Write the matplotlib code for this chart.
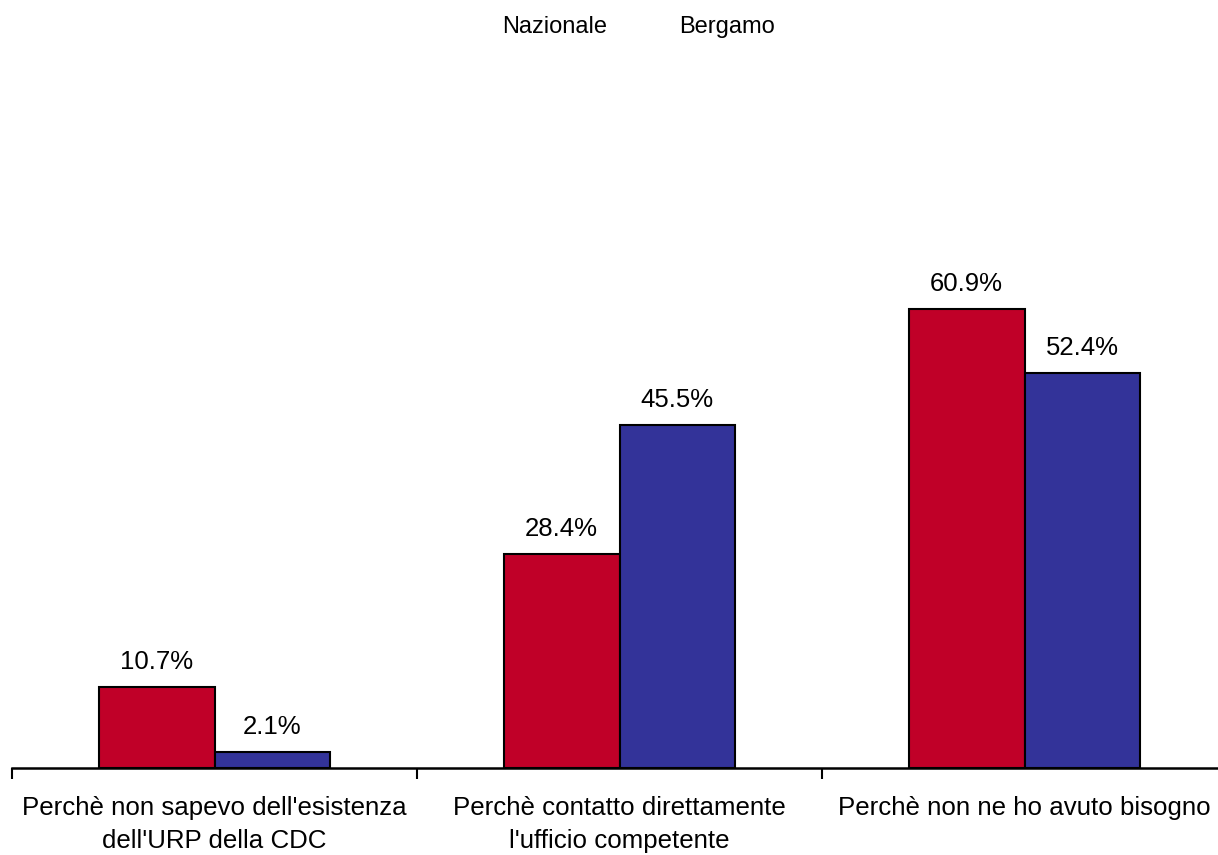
import matplotlib.pyplot as plt
import numpy as np

plt.rcParams["font.family"] = ["Liberation Sans", "DejaVu Sans"]

categories = [
    "Perchè non sapevo dell'esistenza\ndell'URP della CDC",
    "Perchè contatto direttamente\nl'ufficio competente",
    "Perchè non ne ho avuto bisogno",
]
nazionale = [10.7, 28.4, 60.9]
bergamo = [2.1, 45.5, 52.4]
series_names = ["Nazionale", "Bergamo"]

W, H = 1218, 855
fig = plt.figure(figsize=(W / 100, H / 100), dpi=100)
# axis runs from x=12 px to past the right edge (last tick is off-canvas)
ax = fig.add_axes([12 / W, (H - 768) / H, 1215 / W, 754 / H])

x = np.arange(len(categories))
width = 0.286
b1 = ax.bar(x - width / 2, nazionale, width, color="#C00028",
            edgecolor="black", linewidth=1.5, label=series_names[0])
b2 = ax.bar(x + width / 2, bergamo, width, color="#333399",
            edgecolor="black", linewidth=1.5, label=series_names[1])

for bars, vals in ((b1, nazionale), (b2, bergamo)):
    for bar, v in zip(bars, vals):
        ax.text(bar.get_x() + bar.get_width() / 2, v + 2.4, f"{v:.1f}%",
                ha="center", va="baseline", fontsize=18.5)

ax.set_xlim(-0.5, 2.5)
ax.set_ylim(0, 100)
ax.set_xticks([-0.5, 0.5, 1.5, 2.5])
ax.set_xticklabels([])
ax.set_xticks(x, minor=True)
ax.set_xticklabels(categories, minor=True, fontsize=18.6, linespacing=1.5)
ax.tick_params(axis="x", which="major", direction="out", length=8, width=1.5)
ax.tick_params(axis="x", which="minor", length=0, pad=20)
ax.set_yticks([])
for side in ("top", "right", "left"):
    ax.spines[side].set_visible(False)
ax.spines["bottom"].set_linewidth(1.8)

leg = fig.legend(loc="center", bbox_to_anchor=(0.5245, 1 - 27 / H), ncol=2,
                 frameon=False, fontsize=17, handlelength=0, handletextpad=0,
                 columnspacing=3.05)
for h in leg.legend_handles:
    h.set_visible(False)

fig.savefig("out.png", dpi=100)
plt.close()
